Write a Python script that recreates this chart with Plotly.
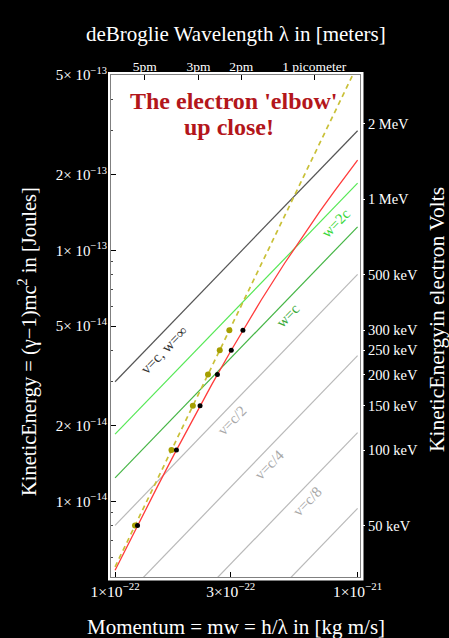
import plotly.graph_objects as go
import math

# ---------------- data ----------------
# electron: relativistic kinetic energy vs momentum (red curve)
electron_p = [1.0e-22, 1.2e-22, 1.5e-22, 1.75e-22, 2.0e-22, 2.5e-22, 3.0e-22, 3.5e-22,
              4.0e-22, 5.0e-22, 6.0e-22, 7.0e-22, 8.0e-22, 9.0e-22, 1.0e-21]
electron_ke = [5.316e-15, 7.555e-15, 1.1537e-14, 1.5367e-14, 1.9608e-14, 2.9125e-14, 3.9750e-14,
               5.1217e-14, 6.3328e-14, 8.8925e-14, 1.15759e-13, 1.43387e-13, 1.7155e-13,
               2.00088e-13, 2.2890e-13]

# classical p^2/2m (dashed olive)
classical_p = [1.0e-22, 1.0e-21]
classical_ke = [5.489e-15, 5.489e-13]

# constant-speed lines
line_p = [1.0e-22, 1.0e-21]
v_c_ke = [2.998e-14, 2.998e-13]
w_2c_ke = [1.853e-14, 1.853e-13]
w_c_ke = [1.242e-14, 1.242e-13]
v_c2_ke = [8.033e-15, 8.033e-14]
v_c4_ke = [3.808e-15, 3.808e-14]
v_c8_ke = [1.881e-15, 1.881e-14]
v_c16_ke = [9.378e-16, 9.378e-15]

# marked points: 50..300 keV
dot_ke = [8.011e-15, 1.602e-14, 2.403e-14, 3.204e-14, 4.005e-14, 4.807e-14]
dot_p_rel = [1.2373e-22, 1.7901e-22, 2.2408e-22, 2.6421e-22, 3.0137e-22, 3.3656e-22]
dot_p_cls = [1.2081e-22, 1.7085e-22, 2.0925e-22, 2.4162e-22, 2.7014e-22, 2.9592e-22]

# ticks
y_ticks = [1e-14, 2e-14, 5e-14, 1e-13, 2e-13, 5e-13]
y_tick_text = ["1× 10<sup>−14</sup>", "2× 10<sup>−14</sup>", "5× 10<sup>−14</sup>",
               "1× 10<sup>−13</sup>", "2× 10<sup>−13</sup>", "5× 10<sup>−13</sup>"]
y_minor = [6e-15, 7e-15, 8e-15, 9e-15, 3e-14, 4e-14, 6e-14, 7e-14, 8e-14, 9e-14, 3e-13, 4e-13]
x_ticks = [1e-22, 3e-22, 1e-21]
x_tick_text = ["1×10<sup>−22</sup>", "3×10<sup>−22</sup>", "1×10<sup>−21</sup>"]
energy_tick_kev = [50, 100, 150, 200, 250, 300, 500, 1000, 2000]
energy_tick_text = ["50 keV", "100 keV", "150 keV", "200 keV", "250 keV", "300 keV",
                    "500 keV", "1 MeV", "2 MeV"]
wavelength_pm = [5, 3, 2, 1]
wavelength_text = ["5pm", "3pm", "2pm", "1 picometer"]

EV = 1.602177e-19
H = 6.62607e-34

# ---------------- layout geometry ----------------
W, Hh = 449, 638
L, R, T, B = 111, 89, 75, 61
PW, PH = W - L - R, Hh - T - B
XR = [math.log10(0.962e-22), math.log10(1.023e-21)]
YR = [math.log10(5e-15), math.log10(5e-13)]


def px(xp):
    return (xp - L) / PW


def py(yp):
    return (Hh - B - yp) / PH


FONT = "Liberation Serif, Times New Roman, serif"

fig = go.Figure()


def add_line(x, y, color, width=1.2, dash=None):
    fig.add_trace(go.Scatter(x=x, y=y, mode="lines",
                             line=dict(color=color, width=width, dash=dash),
                             hoverinfo="skip", showlegend=False))


gray = "#b9b9b9"
add_line(line_p, v_c16_ke, gray)
add_line(line_p, v_c8_ke, gray)
add_line(line_p, v_c4_ke, gray)
add_line(line_p, v_c2_ke, gray)
add_line(line_p, w_c_ke, "#45b545")
add_line(line_p, w_2c_ke, "#55e855")
add_line(line_p, v_c_ke, "#555555")
add_line(electron_p, electron_ke, "#ff3b3b", 1.3)
add_line(classical_p, classical_ke, "#c9c038", 1.7, "5px,4px")

fig.add_trace(go.Scatter(x=dot_p_cls, y=dot_ke, mode="markers",
                         marker=dict(color="#a59e00", size=6),
                         hoverinfo="skip", showlegend=False))
fig.add_trace(go.Scatter(x=dot_p_rel, y=dot_ke, mode="markers",
                         marker=dict(color="#000000", size=5),
                         hoverinfo="skip", showlegend=False))
# invisible traces to activate the secondary axes
fig.add_trace(go.Scatter(x=dot_p_rel, y=dot_ke, mode="markers", xaxis="x2", yaxis="y2",
                         marker=dict(opacity=0), hoverinfo="skip", showlegend=False))

fig.update_layout(
    width=W, height=Hh,
    margin=dict(l=L, r=R, t=T, b=B),
    paper_bgcolor="black", plot_bgcolor="white",
    showlegend=False,
    font=dict(family=FONT, color="white"),
    xaxis=dict(type="log", range=XR, tickvals=x_ticks, ticktext=x_tick_text,
               ticks="inside", ticklen=5, tickcolor="black", tickwidth=1,
               tickfont=dict(family=FONT, size=15.5, color="white"),
               showgrid=False, zeroline=False, showline=True, linecolor="#808080",
               linewidth=1, mirror=True),
    xaxis2=dict(type="log", range=XR, overlaying="x", side="top", anchor="y",
                tickvals=[H / (v * 1e-12) for v in wavelength_pm], ticktext=wavelength_text,
                ticks="inside", ticklen=5, tickcolor="black",
                tickfont=dict(family=FONT, size=13.5, color="white"),
                showgrid=False, zeroline=False, showline=False),
    yaxis=dict(type="log", range=YR, tickvals=y_ticks, ticktext=y_tick_text,
               ticks="inside", ticklen=5, tickcolor="black",
               tickfont=dict(family=FONT, size=15, color="white"),
               minor=dict(tickvals=y_minor, ticks="inside", ticklen=2, tickcolor="#444"),
               showgrid=False, zeroline=False, showline=True, linecolor="#808080",
               linewidth=1, mirror=True),
    yaxis2=dict(type="log", range=YR, overlaying="y", side="right", anchor="x",
                tickvals=[k * 1e3 * EV for k in energy_tick_kev], ticktext=energy_tick_text,
                ticks="outside", ticklen=4, tickcolor="white",
                tickfont=dict(family=FONT, size=14.5, color="white"),
                showgrid=False, zeroline=False, showline=False),
)

# white frame around the plot area
fig.add_shape(type="rect", xref="paper", yref="paper",
              x0=px(108), x1=px(363.5), y0=py(580.5), y1=py(72), layer="below",
              fillcolor="white", line=dict(width=0))

ann = []
# axis titles
ann.append(dict(text="deBroglie Wavelength λ in [meters]", x=px(236), y=py(34),
                font=dict(size=21, color="white", family=FONT)))
ann.append(dict(text="Momentum = mw = h/λ in [kg m/s]", x=px(236), y=py(627),
                font=dict(size=21, color="white", family=FONT)))
ann.append(dict(text="KineticEnergy = (γ−1)mc<sup>2</sup> in [Joules]", x=px(27), y=py(342),
                textangle=-90, font=dict(size=20.5, color="white", family=FONT)))
ann.append(dict(text="KineticEnergyin electron Volts", x=px(437), y=py(320),
                textangle=-90, font=dict(size=21.5, color="white", family=FONT)))
# headline
ann.append(dict(text="<b>The electron 'elbow'</b>", x=px(234), y=py(101),
                font=dict(size=24, color="#b3161b", family=FONT)))
ann.append(dict(text="<b>up close!</b>", x=px(229), y=py(127),
                font=dict(size=24, color="#b3161b", family=FONT)))
# line labels
lab = [("v=c, w=∞", 164, 350, "#333333"),
       ("w=2c", 336, 223, "#38d838"),
       ("w=c", 287.5, 316, "#3aaa3a"),
       ("v=c/2", 231.5, 421, "#a8a8a8"),
       ("v=c/4", 269, 465, "#a8a8a8"),
       ("v=c/8", 306.5, 501.5, "#a8a8a8")]
for t, x, y, c in lab:
    ann.append(dict(text=t, x=px(x), y=py(y), textangle=-46,
                    font=dict(size=15, color=c, family=FONT)))

for a in ann:
    a.update(xref="paper", yref="paper", showarrow=False, xanchor="center", yanchor="middle")
fig.update_layout(annotations=ann)

fig.write_html("out.html", config={"displayModeBar": False},
               post_script="document.body.style.margin='0';document.body.style.padding='0';")
